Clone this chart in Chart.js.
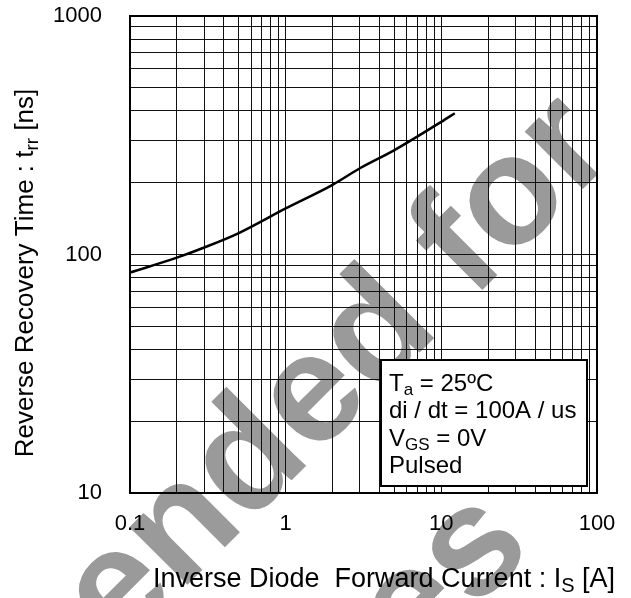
<!DOCTYPE html>
<html>
<head>
<meta charset="utf-8">
<script src="https://cdn.jsdelivr.net/npm/chart.js@4.4.0/dist/chart.umd.min.js"></script>
<style>
  html, body { margin: 0; padding: 0; background: #fff; }
  #wrap { width: 631px; height: 598px; }
</style>
</head>
<body>
<div id="wrap"><canvas id="trrChart"></canvas></div>
<script>
// values
const currentA = [0.1, 0.2, 0.3, 0.5, 1, 2, 3, 5, 10, 12.2];
const trrNs = [84, 97, 107, 123, 156, 196, 230, 274, 360, 391];

// grid lines (log paper)
const xGrid = [0.1, 0.2, 0.3, 0.4, 0.5, 0.6, 0.7, 0.8, 0.9,
               1, 2, 3, 4, 5, 6, 7, 8, 9,
               10, 20, 30, 40, 50, 60, 70, 80, 90, 100];
const yGrid = [10, 20, 30, 40, 50, 60, 70, 80, 90,
               100, 200, 300, 400, 500, 600, 700, 800, 900, 1000];
const xTickLabels = ['0.1', '1', '10', '100'];
const yTickLabels = ['10', '100', '1000'];

// condition box: [main, subscript, rest]
const conditionLines = [
  ['T', 'a', ' = 25\u00baC'],
  ['di / dt = 100A / us', '', ''],
  ['V', 'GS', ' = 0V'],
  ['Pulsed', '', '']
];
const xTitle = ['Inverse Diode  Forward Current : I', 'S', ' [A]'];
const yTitle = ['Reverse Recovery Time : t', 'rr', ' [ns]'];
const watermark = ['Not recommended for', 'es'];

const FONT = '"Liberation Sans", Arial, sans-serif';

// draws "main" + subscript + "rest" starting at x
function subText(ctx, parts, x, y, size, subSize, subDrop) {
  ctx.font = size + 'px ' + FONT;
  ctx.fillText(parts[0], x, y);
  x += ctx.measureText(parts[0]).width;
  if (parts[1]) {
    ctx.font = subSize + 'px ' + FONT;
    ctx.fillText(parts[1], x, y + subDrop);
    x += ctx.measureText(parts[1]).width;
  }
  if (parts[2]) {
    ctx.font = size + 'px ' + FONT;
    ctx.fillText(parts[2], x, y);
  }
}

function subWidth(ctx, parts, size, subSize) {
  ctx.font = size + 'px ' + FONT;
  let w = ctx.measureText(parts[0]).width + ctx.measureText(parts[2]).width;
  ctx.font = subSize + 'px ' + FONT;
  return w + ctx.measureText(parts[1]).width;
}

const paperPlugin = {
  id: 'paper',
  beforeDraw(chart) {
    const ctx = chart.ctx;
    ctx.save();
    ctx.fillStyle = '#fff';
    ctx.fillRect(0, 0, chart.width, chart.height);
    // watermark behind everything
    ctx.rotate(-Math.PI / 4);
    ctx.fillStyle = '#9a9a9a';
    ctx.font = 'bold 155px ' + FONT;
    ctx.textAlign = 'right';
    ctx.textBaseline = 'alphabetic';
    ctx.fillText(watermark[0], 328, 546);
    ctx.fillText(watermark[1], -10, 767);
    ctx.restore();
  },
  afterDraw(chart) {
    const ctx = chart.ctx;
    const a = chart.chartArea;
    ctx.save();
    // frame
    ctx.strokeStyle = '#000';
    ctx.lineWidth = 2;
    ctx.strokeRect(a.left, a.top, a.right - a.left, a.bottom - a.top);

    // condition box
    const bx = a.right - 216, by = a.bottom - 133, bw = 206, bh = 126;
    ctx.fillStyle = '#fff';
    ctx.fillRect(bx, by, bw, bh);
    ctx.lineWidth = 2;
    ctx.strokeRect(bx, by, bw, bh);
    ctx.fillStyle = '#000';
    ctx.textAlign = 'left';
    ctx.textBaseline = 'alphabetic';
    conditionLines.forEach((parts, i) => {
      subText(ctx, parts, bx + 8, by + 31 + i * 27.3, 24, 17, 4);
    });

    // x title
    const xw = subWidth(ctx, xTitle, 27, 20);
    subText(ctx, xTitle, 384 - xw / 2, 587, 27, 20, 5);

    // y title
    ctx.translate(33, 273);
    ctx.rotate(-Math.PI / 2);
    const yw = subWidth(ctx, yTitle, 26, 19);
    subText(ctx, yTitle, -yw / 2, 0, 26, 19, 5);
    ctx.restore();
  }
};

const ctx = document.getElementById('trrChart').getContext('2d');

const trrChart = new Chart(ctx, {
  type: 'line',
  data: {
    datasets: [{
      data: currentA.map((x, i) => ({ x: x, y: trrNs[i] })),
      borderColor: '#000',
      borderWidth: 2.5,
      pointRadius: 0,
      fill: false,
      cubicInterpolationMode: 'monotone'
    }]
  },
  options: {
    responsive: true,
    maintainAspectRatio: false,
    animation: false,
    layout: { padding: { top: 16, right: 34, left: 0, bottom: 0 } },
    plugins: {
      legend: { display: false },
      tooltip: { enabled: false }
    },
    scales: {
      x: {
        type: 'logarithmic',
        min: 0.1,
        max: 100,
        afterBuildTicks: (scale) => { scale.ticks = xGrid.map(v => ({ value: v })); },
        afterFit: (scale) => {
          scale.height = 105;
          scale.paddingLeft = 0;
          scale.paddingRight = 0;
        },
        ticks: {
          autoSkip: false,
          maxRotation: 0,
          padding: 18,
          color: '#000',
          font: { family: FONT, size: 22 },
          callback: (value) => xTickLabels.includes(String(value)) ? String(value) : ''
        },
        grid: { color: '#111', lineWidth: 1, drawTicks: false },
        border: { display: false }
      },
      y: {
        type: 'logarithmic',
        min: 10,
        max: 1000,
        afterBuildTicks: (scale) => { scale.ticks = yGrid.map(v => ({ value: v })); },
        afterFit: (scale) => {
          scale.width = 130;
          scale.paddingTop = 0;
          scale.paddingBottom = 0;
        },
        ticks: {
          autoSkip: false,
          padding: 28,
          color: '#000',
          font: { family: FONT, size: 22 },
          callback: (value) => yTickLabels.includes(String(value)) ? String(value) : ''
        },
        grid: { color: '#111', lineWidth: 1, drawTicks: false },
        border: { display: false }
      }
    }
  },
  plugins: [paperPlugin]
});
</script>
</body>
</html>
